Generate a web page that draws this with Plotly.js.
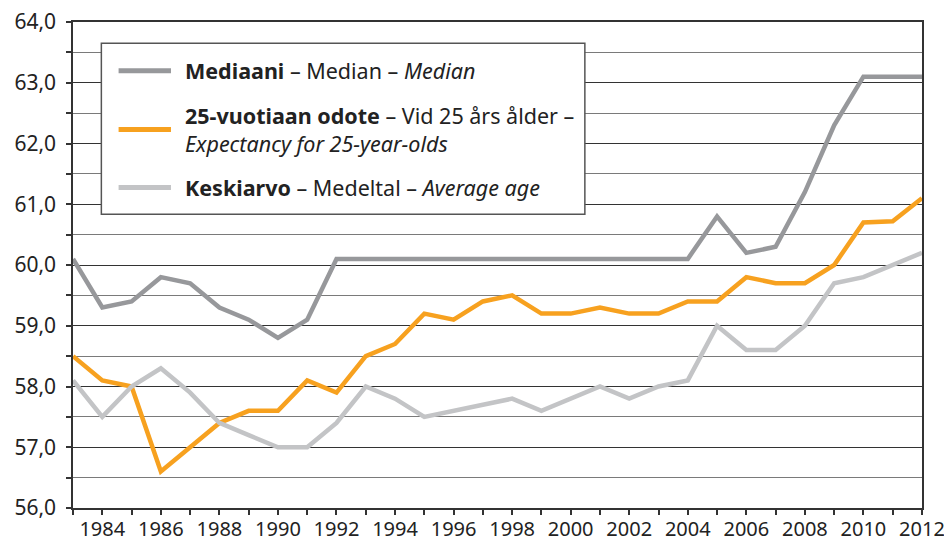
<!DOCTYPE html>
<html>
<head>
<meta charset="utf-8">
<script src="https://cdn.plot.ly/plotly-3.0.1.min.js"></script>
<style>
  html, body { margin: 0; padding: 0; background: #ffffff; }
  #chart { width: 944px; height: 541px; }
</style>
</head>
<body>
<div id="chart"></div>
<script>
const years = [1983, 1984, 1985, 1986, 1987, 1988, 1989, 1990, 1991, 1992, 1993, 1994, 1995, 1996, 1997,
               1998, 1999, 2000, 2001, 2002, 2003, 2004, 2005, 2006, 2007, 2008, 2009, 2010, 2011, 2012];

const median = [60.1, 59.3, 59.4, 59.8, 59.7, 59.3, 59.1, 58.8, 59.1, 60.1, 60.1, 60.1, 60.1, 60.1, 60.1,
                60.1, 60.1, 60.1, 60.1, 60.1, 60.1, 60.1, 60.8, 60.2, 60.3, 61.2, 62.3, 63.1, 63.1, 63.1];

const expectancy25 = [58.5, 58.1, 58.0, 56.6, 57.0, 57.4, 57.6, 57.6, 58.1, 57.9, 58.5, 58.7, 59.2, 59.1, 59.4,
                      59.5, 59.2, 59.2, 59.3, 59.2, 59.2, 59.4, 59.4, 59.8, 59.7, 59.7, 60.0, 60.7, 60.72, 61.1];

const average = [58.1, 57.5, 58.0, 58.3, 57.9, 57.4, 57.2, 57.0, 57.0, 57.4, 58.0, 57.8, 57.5, 57.6, 57.7,
                 57.8, 57.6, 57.8, 58.0, 57.8, 58.0, 58.1, 59.0, 58.6, 58.6, 59.0, 59.7, 59.8, 60.0, 60.2];

const seriesNames = [
  "<b>Mediaani</b> – Median – <i>Median</i>",
  "<b>25-vuotiaan odote</b> – Vid 25 års ålder –<br><i>Expectancy for 25-year-olds</i>",
  "<b>Keskiarvo</b> – Medeltal – <i>Average age</i>"
];
const seriesColors = ["#97989b", "#f7a11f", "#c3c4c6"];

const xTickVals = [1984, 1986, 1988, 1990, 1992, 1994, 1996, 1998, 2000, 2002, 2004, 2006, 2008, 2010, 2012];
const yTickVals = [56, 57, 58, 59, 60, 61, 62, 63, 64];

const FONT = "Noto Sans, sans-serif";

function line(y, i) {
  return {
    x: years, y: y, name: seriesNames[i], type: "scatter", mode: "lines",
    line: { color: seriesColors[i], width: 4.5, shape: "linear" },
    hoverinfo: "x+y", showlegend: false
  };
}

const traces = [line(median, 0), line(expectancy25, 1), line(average, 2)];

// Legend box drawn in paper coordinates (layout, not data)
const legendBox = { x0: 0.0334, x1: 0.6029, y0: 0.6043, y1: 0.9564 };
const legendRowsY = [0.8995, 0.7788, 0.6595];
const sampleX = [0.0537, 0.1154];
const textX = 0.1297;

const shapes = [
  { type: "rect", xref: "paper", yref: "paper",
    x0: legendBox.x0, x1: legendBox.x1, y0: legendBox.y0, y1: legendBox.y1,
    fillcolor: "#ffffff", line: { color: "#555555", width: 1.5 }, layer: "above" }
];
const annotations = [];
seriesNames.forEach((name, i) => {
  shapes.push({ type: "line", xref: "paper", yref: "paper",
    x0: sampleX[0], x1: sampleX[1], y0: legendRowsY[i], y1: legendRowsY[i],
    line: { color: seriesColors[i], width: 5 }, layer: "above" });
  annotations.push({ xref: "paper", yref: "paper", x: textX, y: legendRowsY[i],
    xanchor: "left", yanchor: "middle", align: "left", showarrow: false,
    text: name, font: { family: FONT, size: 21.5, color: "#222222" } });
});

const layout = {
  width: 944, height: 541,
  margin: { l: 73, r: 22, t: 22, b: 33, pad: 0 },
  paper_bgcolor: "#ffffff",
  plot_bgcolor: "#ffffff",
  separators: ", ",
  font: { family: FONT, size: 20, color: "#222222" },
  showlegend: false,
  shapes: shapes,
  annotations: annotations,
  xaxis: {
    range: [1982.999, 2012.001],
    tickmode: "array", tickvals: xTickVals, ticktext: xTickVals.map(String),
    ticks: "outside", ticklen: 5, tickwidth: 1.5, tickcolor: "#333333",
    minor: { dtick: 1, tick0: 1983, ticks: "outside", ticklen: 5, tickwidth: 1.5, tickcolor: "#333333", showgrid: false },
    showgrid: false, zeroline: false,
    showline: true, linecolor: "#333333", linewidth: 1.5, mirror: true,
    ticklabelstandoff: -3,
    ticklabeloverflow: "allow",
    tickfont: { family: FONT, size: 20, color: "#222222" },
    fixedrange: true
  },
  yaxis: {
    range: [56, 64],
    tickmode: "array", tickvals: yTickVals, tickformat: ".1f",
    ticks: "outside", ticklen: 5, tickwidth: 1.5, tickcolor: "#333333",
    showgrid: true, gridcolor: "#333333", gridwidth: 1.3,
    minor: { dtick: 0.5, tick0: 56, ticks: "outside", ticklen: 5, tickwidth: 1.5, tickcolor: "#333333",
             showgrid: true, gridcolor: "#7a7a7a", gridwidth: 1.3 },
    zeroline: false,
    showline: true, linecolor: "#333333", linewidth: 1.5, mirror: true,
    ticklabelstandoff: 6,
    tickfont: { family: FONT, size: 21, color: "#222222" },
    fixedrange: true
  }
};

Plotly.newPlot("chart", traces, layout, { displayModeBar: false, responsive: false });
</script>
</body>
</html>
